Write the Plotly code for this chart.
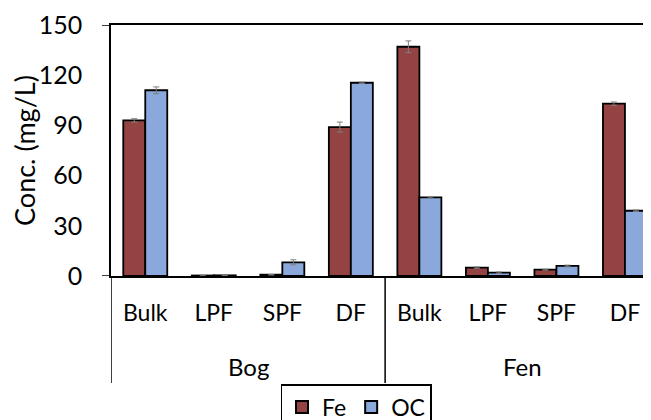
import plotly.graph_objects as go

groups = ["Bog", "Fen"]
subcats = ["Bulk", "LPF", "SPF", "DF"]
fe = [93, 0.3, 0.8, 89, 137, 5, 3.8, 103]
oc = [111, 0.4, 8.2, 115.5, 47, 2, 6, 39]
fe_err = [1, 0.2, 0.2, 3, 3.5, 0.4, 0.3, 1]
oc_err = [2, 0.2, 1.5, 0.4, 0.4, 0.4, 0.5, 0.4]
yticks = [0, 30, 60, 90, 120, 150]

x = list(range(len(groups) * len(subcats)))
ticktext = subcats * len(groups)
FONT = "Lato"

fig = go.Figure()
fig.add_bar(x=x, y=fe, name="Fe", marker=dict(color="#934342", line=dict(color="black", width=1.8)),
            error_y=dict(type="data", array=fe_err, color="#7f7f7f", thickness=1, width=3))
fig.add_bar(x=x, y=oc, name="OC", marker=dict(color="#8AA8DC", line=dict(color="black", width=1.8)),
            error_y=dict(type="data", array=oc_err, color="#7f7f7f", thickness=1, width=3))

# page body has an 8px offset
OFF = 8
W, H = 651, 420
L, R, T, B = 111 - OFF, OFF, 25 - OFF, 152
pw, ph = W - L - R, H - T - B
Y0 = 276  # page y of the x axis

fig.update_layout(
    width=W, height=H,
    margin=dict(l=L, r=R, t=T, b=B, autoexpand=False),
    paper_bgcolor="white", plot_bgcolor="white",
    barmode="group", bargap=0.358, bargroupgap=0,
    font=dict(family=FONT, size=22, color="black"),
    showlegend=True,
    legend=dict(orientation="h", x=(356 - 111) / pw, xanchor="center",
                y=-(384 - Y0) / ph, yanchor="top",
                bordercolor="black", borderwidth=1.5,
                font=dict(size=23), itemsizing="constant"),
)
fig.update_xaxes(
    range=[-0.5, 7.38], tickvals=x, ticktext=ticktext, automargin=False,
    showline=True, linecolor="black", linewidth=1.5, mirror=True,
    showgrid=False, zeroline=False, ticks="", ticklabelstandoff=16,
    tickfont=dict(size=23),
)
fig.update_yaxes(
    range=[0, 150], tickvals=yticks, automargin=False,
    showline=True, linecolor="black", linewidth=1.5,
    showgrid=False, zeroline=False, ticks="", ticklabelstandoff=22,
    tickfont=dict(size=25),
    title=dict(text="Conc. (mg/L)", font=dict(size=27), standoff=4),
)

# group labels and dividers
n = len(subcats)
for gi, g in enumerate(groups):
    fig.add_annotation(x=gi * n + (n - 1) / 2, y=-(366 - Y0) / ph, xref="x", yref="paper",
                       text=g, showarrow=False, yanchor="middle", font=dict(size=24))
    fig.add_shape(type="line", xref="x", yref="paper", x0=gi * n - 0.5, x1=gi * n - 0.5,
                  y0=0, y1=-(383 - Y0) / ph, line=dict(color="black", width=1.5))

# outward stubs at 0 and 150
for yv in [yticks[0], yticks[-1]]:
    fig.add_shape(type="line", xref="paper", yref="y", x0=-9 / pw, x1=0, y0=yv, y1=yv,
                  line=dict(color="black", width=1.5))

fig.write_html("out.html")
